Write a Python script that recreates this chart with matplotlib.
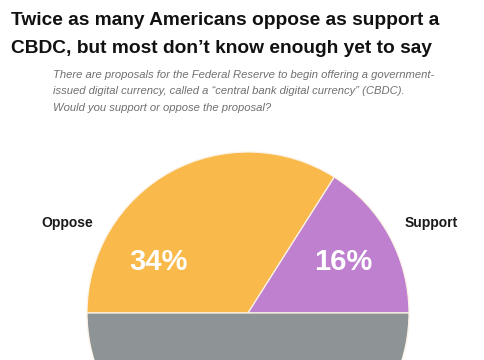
import matplotlib
matplotlib.use("Agg")
import matplotlib.pyplot as plt

categories = ["Oppose", "Support", "Don't know"]
values = [34, 16, 50]
colors = ["#F9B94B", "#BF80CF", "#8E9395"]
pct_labels = ["34%", "16%", ""]

title_lines = ["Twice as many Americans oppose as support a",
               "CBDC, but most don\u2019t know enough yet to say"]
subtitle = ("There are proposals for the Federal Reserve to begin offering a government-\n"
            "issued digital currency, called a \u201ccentral bank digital currency\u201d (CBDC).\n"
            "Would you support or oppose the proposal?")

W, H = 485, 360
fig = plt.figure(figsize=(W / 100, H / 100), dpi=100)
fig.patch.set_facecolor("white")

cx, cy, r = 248, 313, 161
ax = fig.add_axes([(cx - r) / W, (H - cy - r) / H, 2 * r / W, 2 * r / H])
wedges, _ = ax.pie(values, colors=colors, startangle=180, counterclock=False,
                   radius=1, wedgeprops=dict(edgecolor="#FBF3E6", linewidth=0.9))
ax.set_xlim(-1, 1)
ax.set_ylim(-1, 1)
ax.axis("off")

def px(x, y):
    return x / W, 1 - y / H

for lab, (x, y) in zip(pct_labels[:2], [(158, 262), (343, 262)]):
    fig.text(*px(x, y), lab, color="white", fontsize=21, fontweight="bold",
             ha="center", va="center", family="Liberation Sans")

fig.text(*px(67, 223), categories[0], fontsize=10, fontweight="bold",
         ha="center", va="center", family="Liberation Sans", color="#1a1a1a")
fig.text(*px(431, 223), categories[1], fontsize=10, fontweight="bold",
         ha="center", va="center", family="Liberation Sans", color="#1a1a1a")

fig.text(*px(11, 25), title_lines[0], fontsize=13.8, fontweight="bold",
         ha="left", va="baseline", family="Liberation Sans", color="#111111")
fig.text(*px(11, 53), title_lines[1], fontsize=13.8, fontweight="bold",
         ha="left", va="baseline", family="Liberation Sans", color="#111111")

fig.text(*px(53, 70), subtitle, fontsize=8.1, style="italic", ha="left", va="top",
         family="Liberation Sans", color="#707070", linespacing=1.8)

fig.savefig("out.png", dpi=100)
